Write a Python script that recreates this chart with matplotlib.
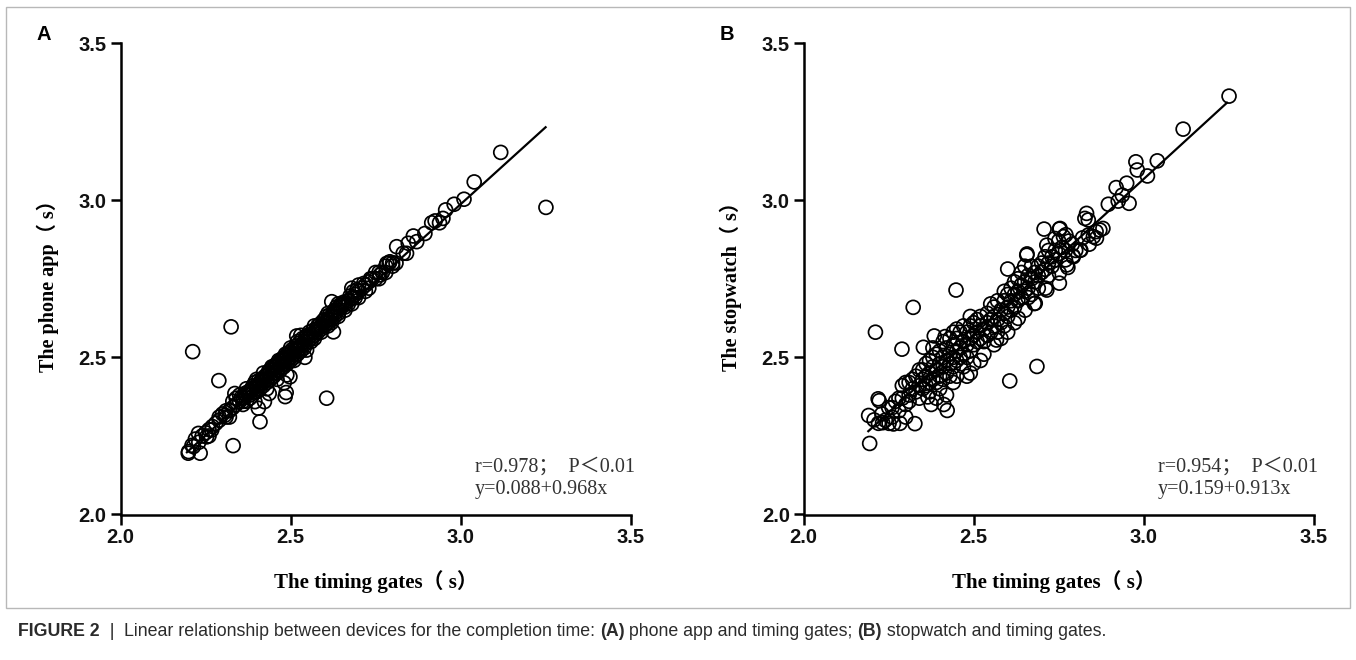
import matplotlib.pyplot as plt
from matplotlib.patches import Rectangle

# Panel A: timing gates (x) vs phone app (y)
a_pts = [
    (3.118, 3.152), (3.251, 2.977), (3.040, 3.058), (3.010, 3.003), (2.981, 2.987),
    (2.956, 2.969), (2.948, 2.942), (2.925, 2.934), (2.915, 2.928), (2.938, 2.928),
    (2.895, 2.894), (2.861, 2.886), (2.846, 2.863), (2.871, 2.868), (2.831, 2.831),
    (2.812, 2.852), (2.783, 2.799), (2.792, 2.804), (2.841, 2.831), (2.763, 2.762),
    (2.212, 2.518), (2.289, 2.426), (2.331, 2.219), (2.410, 2.295), (2.484, 2.375),
    (2.481, 2.419), (2.325, 2.597), (2.405, 2.338), (2.423, 2.359), (2.437, 2.385),
    (2.395, 2.359), (2.489, 2.444), (2.498, 2.438), (2.199, 2.195), (2.234, 2.195),
    (2.214, 2.216), (2.253, 2.247), (2.229, 2.258), (2.268, 2.269), (2.307, 2.316),
    (2.336, 2.385), (2.606, 2.370), (2.626, 2.581), (2.621, 2.677), (2.518, 2.568),
    (2.542, 2.500), (2.547, 2.523), (2.684, 2.709), (2.680, 2.688), (2.487, 2.388),
    (2.20, 2.20), (2.21, 2.22), (2.22, 2.24), (2.23, 2.23), (2.24, 2.25), (2.25, 2.26),
    (2.26, 2.27), (2.26, 2.25), (2.27, 2.28), (2.28, 2.29), (2.29, 2.30), (2.29, 2.31),
    (2.30, 2.32), (2.31, 2.31), (2.31, 2.33), (2.32, 2.33), (2.32, 2.31), (2.33, 2.34),
    (2.33, 2.36), (2.34, 2.35), (2.34, 2.37), (2.35, 2.36), (2.35, 2.38), (2.36, 2.37),
    (2.36, 2.35), (2.37, 2.38), (2.37, 2.40), (2.38, 2.39), (2.38, 2.37), (2.39, 2.40),
    (2.39, 2.41), (2.40, 2.41), (2.40, 2.39), (2.40, 2.43), (2.41, 2.42), (2.41, 2.40),
    (2.42, 2.43), (2.42, 2.41), (2.42, 2.45), (2.43, 2.44), (2.43, 2.42), (2.44, 2.45),
    (2.44, 2.43), (2.44, 2.46), (2.45, 2.46), (2.45, 2.44), (2.45, 2.47), (2.46, 2.47),
    (2.46, 2.45), (2.46, 2.48), (2.47, 2.48), (2.47, 2.46), (2.47, 2.49), (2.48, 2.49),
    (2.48, 2.47), (2.48, 2.50), (2.49, 2.50), (2.49, 2.48), (2.49, 2.51), (2.50, 2.51),
    (2.50, 2.49), (2.50, 2.53), (2.51, 2.52), (2.51, 2.50), (2.52, 2.53), (2.52, 2.51),
    (2.52, 2.55), (2.53, 2.54), (2.53, 2.52), (2.54, 2.55), (2.54, 2.53), (2.55, 2.56),
    (2.55, 2.57), (2.56, 2.57), (2.56, 2.55), (2.57, 2.58), (2.57, 2.56), (2.58, 2.59),
    (2.58, 2.60), (2.59, 2.60), (2.59, 2.58), (2.60, 2.61), (2.60, 2.62), (2.61, 2.62),
    (2.61, 2.60), (2.62, 2.63), (2.62, 2.61), (2.63, 2.64), (2.63, 2.65), (2.64, 2.65),
    (2.64, 2.63), (2.65, 2.66), (2.65, 2.67), (2.66, 2.67), (2.66, 2.65), (2.67, 2.68),
    (2.68, 2.69), (2.68, 2.67), (2.69, 2.70), (2.70, 2.71), (2.70, 2.69), (2.71, 2.72),
    (2.72, 2.73), (2.72, 2.71), (2.73, 2.74), (2.74, 2.75), (2.75, 2.75), (2.76, 2.77),
    (2.77, 2.77), (2.78, 2.79), (2.79, 2.80), (2.80, 2.80),
    (2.36, 2.36), (2.37, 2.36), (2.38, 2.38), (2.39, 2.39), (2.40, 2.40), (2.41, 2.41),
    (2.42, 2.42), (2.43, 2.43), (2.44, 2.44), (2.45, 2.45), (2.46, 2.46), (2.47, 2.47),
    (2.48, 2.48), (2.49, 2.49), (2.50, 2.50), (2.51, 2.51), (2.52, 2.52), (2.53, 2.53),
    (2.54, 2.54), (2.55, 2.55), (2.56, 2.56), (2.57, 2.57), (2.58, 2.58), (2.59, 2.59),
    (2.60, 2.60), (2.61, 2.61), (2.62, 2.62), (2.63, 2.63), (2.64, 2.64), (2.66, 2.66),
    (2.67, 2.67), (2.69, 2.69), (2.43, 2.40), (2.46, 2.43), (2.51, 2.49), (2.53, 2.57),
    (2.57, 2.60), (2.61, 2.64), (2.64, 2.67), (2.68, 2.72), (2.70, 2.73), (2.73, 2.72),
    (2.75, 2.77), (2.76, 2.75), (2.78, 2.77), (2.80, 2.79), (2.81, 2.80),
    (2.355, 2.372), (2.365, 2.385), (2.375, 2.390), (2.385, 2.400), (2.395, 2.420),
    (2.405, 2.425), (2.415, 2.430), (2.425, 2.440), (2.435, 2.455), (2.445, 2.470),
    (2.455, 2.475), (2.465, 2.490), (2.475, 2.495), (2.485, 2.510), (2.495, 2.515),
    (2.505, 2.525), (2.515, 2.535), (2.525, 2.545), (2.535, 2.560), (2.545, 2.565),
    (2.555, 2.580), (2.565, 2.585), (2.575, 2.590), (2.585, 2.605), (2.595, 2.615),
    (2.605, 2.630), (2.615, 2.635), (2.625, 2.645), (2.635, 2.660), (2.645, 2.665),
    (2.655, 2.675), (2.675, 2.695), (2.695, 2.715), (2.715, 2.735), (2.735, 2.750),
]

# Panel B: timing gates (x) vs stopwatch (y)
b_pts = [
    (3.251, 3.331), (3.116, 3.226), (3.040, 3.125), (2.977, 3.122), (2.981, 3.096),
    (3.011, 3.077), (2.950, 3.054), (2.919, 3.040), (2.937, 3.016), (2.925, 2.997),
    (2.896, 2.987), (2.957, 2.990), (2.832, 2.958), (2.837, 2.937), (2.827, 2.942),
    (2.871, 2.905), (2.852, 2.884), (2.837, 2.889), (2.861, 2.879), (2.813, 2.841),
    (2.793, 2.820), (2.774, 2.794), (2.754, 2.910), (2.764, 2.884),
    (2.448, 2.714), (2.322, 2.659), (2.211, 2.580), (2.289, 2.526), (2.352, 2.532),
    (2.384, 2.568), (2.686, 2.471), (2.606, 2.425), (2.194, 2.226), (2.327, 2.289),
    (2.191, 2.315), (2.207, 2.301), (2.219, 2.368), (2.222, 2.362), (2.251, 2.290),
    (2.264, 2.288), (2.283, 2.290), (2.232, 2.292), (2.422, 2.331), (2.412, 2.350),
    (2.375, 2.350), (2.365, 2.374), (2.678, 2.671), (2.711, 2.720), (2.752, 2.736),
    (2.752, 2.768), (2.777, 2.786), (2.792, 2.823), (2.815, 2.841), (2.657, 2.829),
    (2.600, 2.781), (2.707, 2.908), (2.752, 2.908), (2.739, 2.878), (2.771, 2.890),
    (2.416, 2.566), (2.656, 2.825), (2.715, 2.857), (2.715, 2.714), (2.681, 2.672),
    (2.567, 2.555), (2.631, 2.624), (2.651, 2.650), (2.25, 2.34), (2.24, 2.30),
    (2.22, 2.29), (2.23, 2.32), (2.26, 2.31), (2.27, 2.36), (2.28, 2.33), (2.29, 2.37),
    (2.29, 2.41), (2.30, 2.35), (2.30, 2.42), (2.31, 2.38), (2.31, 2.36), (2.32, 2.40),
    (2.32, 2.43), (2.33, 2.39), (2.33, 2.44), (2.34, 2.41), (2.34, 2.37), (2.35, 2.43),
    (2.35, 2.46), (2.35, 2.40), (2.36, 2.44), (2.36, 2.48), (2.36, 2.41), (2.37, 2.45),
    (2.37, 2.42), (2.37, 2.49), (2.38, 2.47), (2.38, 2.43), (2.38, 2.50), (2.39, 2.46),
    (2.39, 2.42), (2.39, 2.51), (2.40, 2.48), (2.40, 2.44), (2.40, 2.52), (2.40, 2.40),
    (2.41, 2.47), (2.41, 2.50), (2.41, 2.43), (2.42, 2.49), (2.42, 2.53), (2.42, 2.45),
    (2.43, 2.48), (2.43, 2.51), (2.43, 2.44), (2.43, 2.56), (2.44, 2.50), (2.44, 2.54),
    (2.44, 2.47), (2.45, 2.52), (2.45, 2.49), (2.45, 2.56), (2.45, 2.44), (2.46, 2.53),
    (2.46, 2.50), (2.46, 2.58), (2.47, 2.55), (2.47, 2.51), (2.47, 2.47), (2.48, 2.54),
    (2.48, 2.58), (2.48, 2.50), (2.49, 2.56), (2.49, 2.52), (2.49, 2.60), (2.49, 2.45),
    (2.50, 2.57), (2.50, 2.54), (2.50, 2.61), (2.50, 2.48), (2.51, 2.58), (2.51, 2.55),
    (2.52, 2.60), (2.52, 2.56), (2.52, 2.63), (2.53, 2.59), (2.53, 2.55), (2.54, 2.61),
    (2.54, 2.57), (2.54, 2.64), (2.55, 2.62), (2.55, 2.58), (2.56, 2.63), (2.56, 2.60),
    (2.56, 2.66), (2.57, 2.62), (2.57, 2.58), (2.58, 2.65), (2.58, 2.61), (2.59, 2.64),
    (2.59, 2.68), (2.59, 2.60), (2.60, 2.66), (2.60, 2.70), (2.60, 2.63), (2.61, 2.68),
    (2.61, 2.72), (2.61, 2.65), (2.62, 2.70), (2.62, 2.66), (2.62, 2.74), (2.63, 2.71),
    (2.63, 2.68), (2.64, 2.73), (2.64, 2.69), (2.65, 2.74), (2.65, 2.71), (2.66, 2.76),
    (2.66, 2.72), (2.67, 2.75), (2.67, 2.79), (2.68, 2.77), (2.68, 2.74), (2.69, 2.79),
    (2.69, 2.76), (2.70, 2.80), (2.70, 2.77), (2.71, 2.82), (2.71, 2.78), (2.72, 2.80),
    (2.72, 2.84), (2.73, 2.82), (2.73, 2.79), (2.74, 2.84), (2.74, 2.81), (2.75, 2.83),
    (2.76, 2.85), (2.77, 2.84), (2.78, 2.87), (2.79, 2.86),
    (2.38, 2.53), (2.42, 2.38), (2.44, 2.42), (2.47, 2.60), (2.51, 2.62), (2.53, 2.51),
    (2.55, 2.67), (2.58, 2.56), (2.62, 2.61), (2.64, 2.77), (2.66, 2.69), (2.69, 2.72),
    (2.72, 2.76), (2.75, 2.87), (2.77, 2.81), (2.80, 2.84), (2.82, 2.88), (2.84, 2.86),
    (2.86, 2.90), (2.88, 2.91), (2.34, 2.46), (2.31, 2.42), (2.28, 2.37), (2.26, 2.34),
    (2.30, 2.31), (2.37, 2.39), (2.56, 2.54), (2.63, 2.75), (2.59, 2.71), (2.49, 2.63),
    (2.41, 2.55), (2.45, 2.59), (2.48, 2.44), (2.52, 2.49), (2.57, 2.68), (2.60, 2.58),
    (2.65, 2.79), (2.67, 2.70), (2.39, 2.37), (2.44, 2.58),
]

a_line_x = [2.195, 3.25]
a_line_y = [2.198, 3.232]
b_line_x = [2.19, 3.245]
b_line_y = [2.265, 3.31]

ticks = [2.0, 2.5, 3.0, 3.5]
tick_labels = ["2.0", "2.5", "3.0", "3.5"]

panels = [
    ("A", a_pts, a_line_x, a_line_y, "The phone app（ s）",
     ["r=0.978；  P＜0.01", "y=0.088+0.968x"]),
    ("B", b_pts, b_line_x, b_line_y, "The stopwatch（ s）",
     ["r=0.954；  P＜0.01", "y=0.159+0.913x"]),
]

serif = ["Liberation Serif", "Noto Sans CJK SC", "DejaVu Serif"]
sans = ["Liberation Sans", "DejaVu Sans"]

W, H = 1356, 660
fig = plt.figure(figsize=(W / 100, H / 100), dpi=100)

# frame round the figure
bg = fig.add_axes([0, 0, 1, 1])
bg.set_xlim(0, W)
bg.set_ylim(H, 0)
bg.axis("off")
bg.add_patch(Rectangle((6, 7), 1344, 601, fill=False, edgecolor="#b8b8b8", lw=1))

lefts = [120.6, 803.7]
xlab_x = [0.50, 0.49]
for (tag, pts, lx, ly, ylab, notes), left, xl in zip(panels, lefts, xlab_x):
    ax = fig.add_axes([left / W, (H - 514.5) / H, 510 / W, 471.5 / H])
    xs = [p[0] for p in pts]
    ys = [p[1] for p in pts]
    ax.scatter(xs, ys, s=100, facecolors="none", edgecolors="black", linewidths=1.25, zorder=2)
    ax.plot(lx, ly, color="black", lw=1.6, zorder=3)

    ax.set_xlim(2.0, 3.5)
    ax.set_ylim(2.0, 3.5)
    ax.set_xticks(ticks)
    ax.set_xticklabels(tick_labels)
    ax.set_yticks(ticks)
    ax.set_yticklabels(tick_labels)
    for s in ["top", "right"]:
        ax.spines[s].set_visible(False)
    for s in ["left", "bottom"]:
        ax.spines[s].set_linewidth(1.8)
    ax.tick_params(direction="out", length=7.5, width=1.8, pad=2.5)
    for lab in ax.get_xticklabels() + ax.get_yticklabels():
        lab.set_fontfamily(sans)
        lab.set_fontweight("bold")
        lab.set_fontsize(14.5)
        lab.set_color("#111111")

    ax.set_xlabel("The timing gates（ s）", family=serif, fontweight="bold", fontsize=15)
    ax.xaxis.set_label_coords(xl, -0.118)
    ax.set_ylabel(ylab, family=serif, fontweight="bold", fontsize=14.5)
    ax.yaxis.set_label_coords(-0.12, 0.495)

    ax.text(0.695, 0.100, notes[0], transform=ax.transAxes, family=serif,
            fontsize=14.5, color="#333333", va="center")
    ax.text(0.695, 0.053, notes[1], transform=ax.transAxes, family=serif,
            fontsize=14.5, color="#333333", va="center")

    bg.text(left - 77, 35, tag, family=sans, fontweight="bold", fontsize=14.5,
            va="center", ha="center")

# caption, pieces chained one after another
pieces = [
    ("FIGURE 2", "bold"), ("  |  ", "normal"),
    ("Linear relationship between devices for the completion time: ", "normal"),
    ("(A)", "bold"), (" phone app and timing gates; ", "normal"),
    ("(B)", "bold"), (" stopwatch and timing gates.", "normal"),
]
prev = bg.text(18, 631, pieces[0][0], family=sans, fontweight=pieces[0][1],
               fontsize=12.8, color="#2b2b2b", va="center")
for txt, wt in pieces[1:]:
    prev = bg.annotate(txt, xy=(1, 0.5), xycoords=prev, va="center", ha="left",
                       family=sans, fontweight=wt, fontsize=12.8, color="#2b2b2b")

fig.savefig("out.png", dpi=100)
